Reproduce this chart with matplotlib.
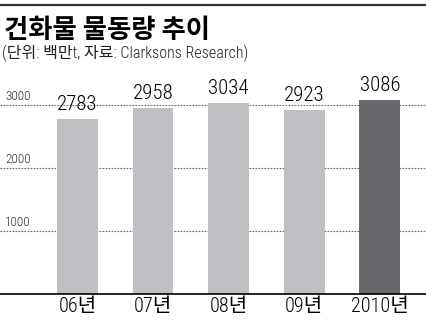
import matplotlib
matplotlib.use("Agg")
import matplotlib.pyplot as plt

years = ["06년", "07년", "08년", "09년", "2010년"]
volumes = [2783, 2958, 3034, 2923, 3086]
bar_colors = ["#bfc0c4", "#bfc0c4", "#bfc0c4", "#bfc0c4", "#68696d"]
grid_vals = [1000, 2000, 3000]

fam = ["Roboto Condensed", "Noto Sans CJK KR"]

fig = plt.figure(figsize=(4.26, 3.21), dpi=100)

# top rule
fig.add_artist(plt.Line2D([0, 1], [1 - 5 / 321, 1 - 5 / 321], color="#333333", lw=1.6))

fig.text(0.01, 1 - 30 / 321, "건화물 물동량 추이", family="Noto Sans CJK KR",
         fontweight="heavy", fontsize=19, va="center", ha="left")
fig.text(0.005, 1 - 53 / 321, "(단위: 백만t, 자료: Clarksons Research)", family=fam,
         fontsize=11.5, fontweight="light", va="center", ha="left", color="#222222")

ax = fig.add_axes([0, 1 - 294 / 321, 1, 3.3 * 63 / 321])
x = range(len(years))
ax.bar(x, volumes, width=0.54, color=bar_colors, zorder=2)
ax.set_xlim(-1.025, 4.61)
ax.set_ylim(0, 3300)

for g in grid_vals:
    ax.axhline(g, color="#666666", lw=0.8, ls=(0, (1.5, 1.2)), zorder=1)
    ax.text(0.012, g + 30, str(g), transform=ax.get_yaxis_transform(), family=fam,
            fontsize=9.5, fontweight="light", color="#333333", ha="left", va="bottom")

for i, v in enumerate(volumes):
    ax.text(i, v + 80, str(v), family=fam, fontsize=15, fontweight="light",
            ha="center", va="bottom")

for s in ["top", "left", "right"]:
    ax.spines[s].set_visible(False)
ax.spines["bottom"].set_linewidth(1.2)
ax.set_yticks([])
ax.set_xticks(list(x))
ax.set_xticklabels(years, family=fam, fontsize=14.5, fontweight="light")
ax.tick_params(axis="x", length=0, pad=2)

fig.savefig("out.png", dpi=100)
